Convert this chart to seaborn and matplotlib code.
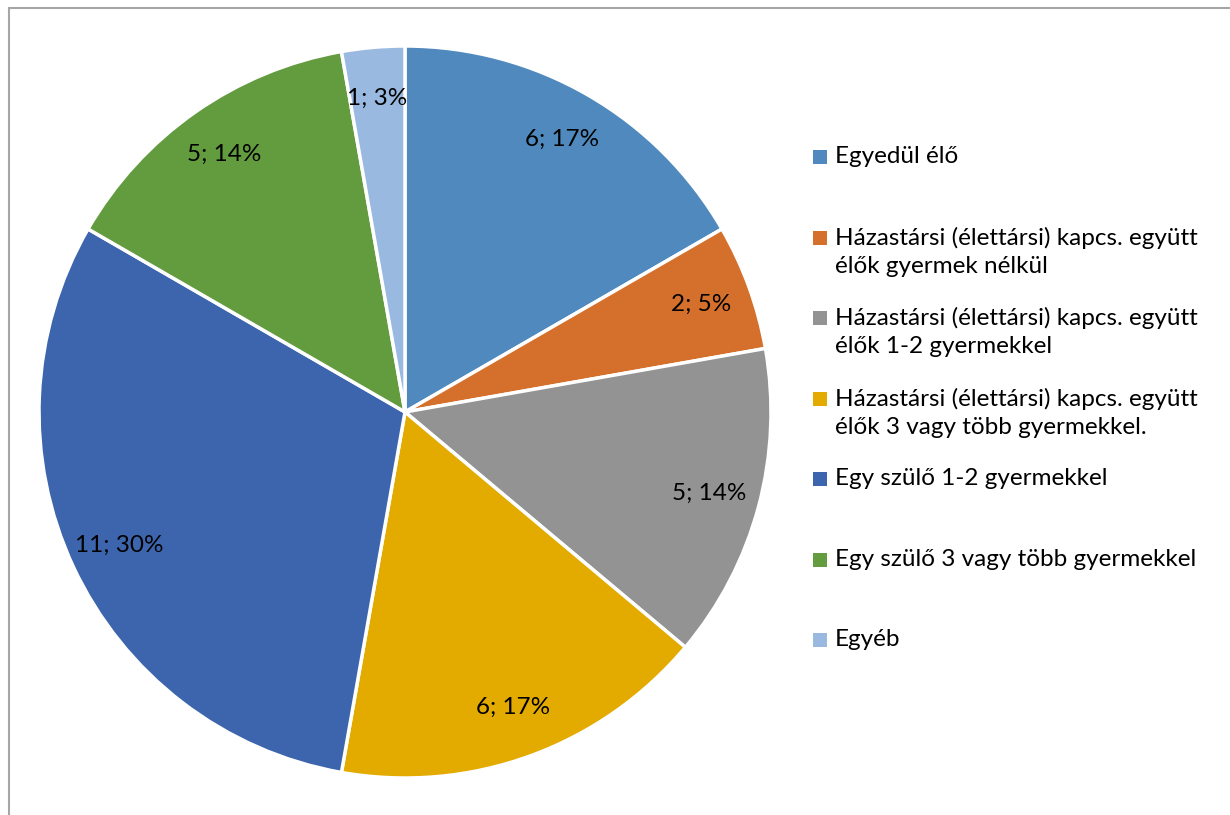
import matplotlib
matplotlib.use("Agg")
import matplotlib.pyplot as plt
import seaborn as sns
from matplotlib.patches import Rectangle

# household types and counts
categories = [
    "Egyedül élő",
    "Házastársi (élettársi) kapcs. együtt\nélők gyermek nélkül",
    "Házastársi (élettársi) kapcs. együtt\nélők 1-2 gyermekkel",
    "Házastársi (élettársi) kapcs. együtt\nélők 3 vagy több gyermekkel.",
    "Egy szülő 1-2 gyermekkel",
    "Egy szülő 3 vagy több gyermekkel",
    "Egyéb",
]
counts = [6, 2, 5, 6, 11, 5, 1]
data_labels = ["6; 17%", "2; 5%", "5; 14%", "6; 17%", "11; 30%", "5; 14%", "1; 3%"]
colors = ["#4F89BD", "#D4702B", "#939393", "#E3AA00", "#3D65AD", "#629C3F", "#99B9E0"]

sns.set_theme(style="white")
plt.rcParams["font.family"] = ["Lato", "DejaVu Sans"]

W, H = 1230, 815
fig = plt.figure(figsize=(W / 100, H / 100), dpi=100)
ax = fig.add_axes([0, 0, 1, 1])

wedges, texts = ax.pie(
    counts,
    colors=colors,
    labels=data_labels,
    labeldistance=0.86,
    startangle=90,
    counterclock=False,
    center=(405, H - 412),
    radius=366,
    wedgeprops=dict(edgecolor="white", linewidth=2.5),
    textprops=dict(fontsize=17.5, color="black"),
)
for t in texts:
    t.set_ha("center")
    t.set_va("center")

# pixel-like data coords for the whole figure
ax.set_xlim(0, W)
ax.set_ylim(0, H)
ax.set_aspect("equal")
ax.axis("off")

# legend drawn item by item to mimic the evenly spaced Excel legend
for i, (lab, col) in enumerate(zip(categories, colors)):
    y = 157 + i * 80.5
    ax.add_patch(Rectangle((813, H - y - 7), 14, 14, facecolor=col, edgecolor="none"))
    ax.text(835, H - y + 11, lab, fontsize=17.5, color="black", ha="left", va="top",
            linespacing=1.42)

# chart frame
fig.patches.append(Rectangle((9 / W, -0.1), 1.2, (H - 8) / H + 0.1,
                             transform=fig.transFigure, fill=False,
                             edgecolor="#A6A6A6", linewidth=1.5))

fig.savefig("out.png", dpi=100)
